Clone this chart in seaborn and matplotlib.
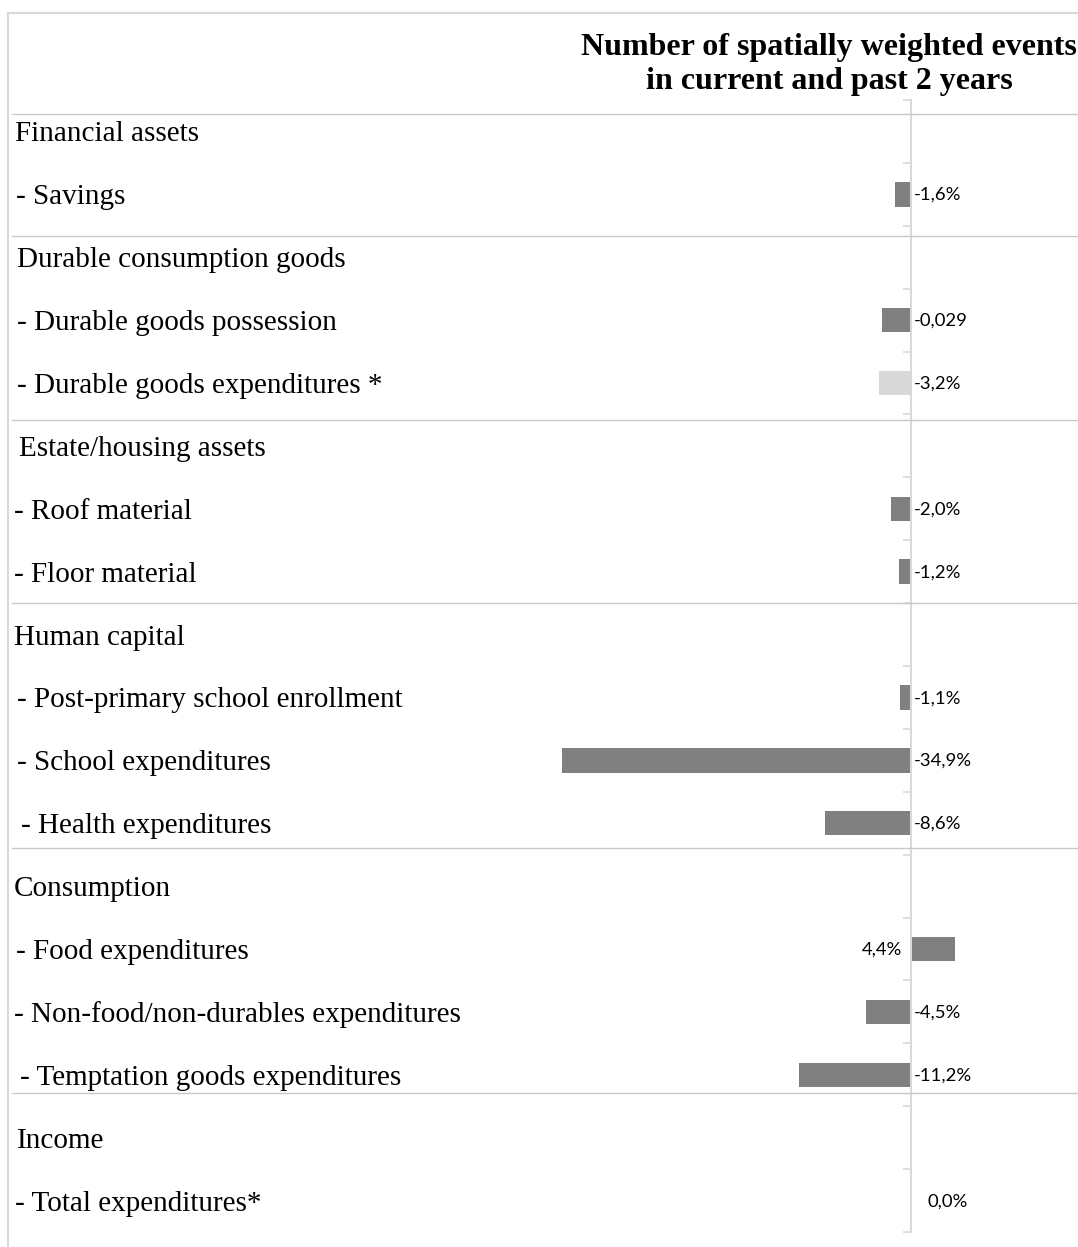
import numpy as np
import pandas as pd
import matplotlib
matplotlib.use("Agg")
import matplotlib.pyplot as plt
import seaborn as sns
from matplotlib.lines import Line2D
from matplotlib.transforms import blended_transform_factory, offset_copy

# ---------------- data ----------------
row_labels = [
    "Financial assets",
    "- Savings",
    "Durable consumption goods",
    "- Durable goods possession",
    "- Durable goods expenditures *",
    "Estate/housing assets",
    "- Roof material",
    "- Floor material",
    "Human capital",
    "- Post-primary school enrollment",
    "- School expenditures",
    "- Health expenditures",
    "Consumption",
    "- Food expenditures",
    "- Non-food/non-durables expenditures",
    "- Temptation goods expenditures",
    "Income",
    "- Total expenditures*",
]
item_labels = [
    "- Savings",
    "- Durable goods possession",
    "- Durable goods expenditures *",
    "- Roof material",
    "- Floor material",
    "- Post-primary school enrollment",
    "- School expenditures",
    "- Health expenditures",
    "- Food expenditures",
    "- Non-food/non-durables expenditures",
    "- Temptation goods expenditures",
    "- Total expenditures*",
]
item_values = [-1.6, -2.9, -3.2, -2.0, -1.2, -1.1, -34.9, -8.6, 4.4, -4.5, -11.2, 0.0]
value_texts = ["-1,6%", "-0,029", "-3,2%", "-2,0%", "-1,2%", "-1,1%",
               "-34,9%", "-8,6%", "4,4%", "-4,5%", "-11,2%", "0,0%"]
highlight = [False, False, True, False, False, False,
             False, False, False, False, False, False]
title_lines = ["Number of spatially weighted events", "in current and past 2 years"]

# ---------------- layout ----------------
W, H = 1078, 1247
def fx(px): return px / W
def fy(py): return 1 - py / H

label_x = [15, 16, 17, 17, 17, 19, 14, 14, 14, 17, 17, 21, 14, 16, 14, 20, 17, 15]
separators_y = [114, 236, 420, 603, 848, 1093]

sns.set_theme(style="white")
plt.rcParams["font.family"] = ["Liberation Serif", "DejaVu Sans"]
plt.rcParams["text.color"] = "#000000"

fig = plt.figure(figsize=(W / 100, H / 100), dpi=100)
ax = fig.add_axes([fx(8), fy(1232), fx(1078) - fx(8), fy(100) - fy(1232)])
ax.patch.set_alpha(0)

df = pd.DataFrame({"label": item_labels, "value": item_values,
                   "hl": ["hi" if h else "lo" for h in highlight]})
sns.barplot(data=df, x="value", y="label", order=row_labels, hue="hl",
            palette={"lo": "#808080", "hi": "#d9d9d9"}, dodge=False,
            orient="h", width=0.39, linewidth=0, legend=False, ax=ax)

ax.set_xlim((8 - 911) / 10, (1078 - 911) / 10)
ax.set_ylim(len(row_labels) - 0.5, -0.5)

for s in ["top", "right", "bottom"]:
    ax.spines[s].set_visible(False)
ax.spines["left"].set_position(("data", 0))
ax.spines["left"].set_color("#d9d9d9")
ax.spines["left"].set_linewidth(1.5)
ax.set_xlabel("")
ax.set_ylabel("")
ax.set_xticks([])
ax.set_yticks([])
ax.set_yticks(np.arange(-0.5, len(row_labels), 1.0), minor=True)
ax.tick_params(axis="y", which="minor", length=6, width=1.2, color="#d9d9d9",
               direction="out", left=True)
ax.tick_params(axis="y", which="major", length=0)

# row labels (baseline ~10 px below row centre)
tr = blended_transform_factory(fig.transFigure, ax.transData)
tr_lab = offset_copy(tr, fig=fig, x=0, y=-10, units="dots")
for i, lab in enumerate(row_labels):
    ax.text(fx(label_x[i]), i, lab, transform=tr_lab, ha="left", va="baseline",
            fontsize=21, family=["Liberation Serif", "DejaVu Sans"], color="#000000")

# value labels
for lab, v, t in zip(item_labels, item_values, value_texts):
    yi = row_labels.index(lab)
    if v > 0:
        off, ha = -6, "right"
    elif v == 0:
        off, ha = 12, "left"
    else:
        off, ha = 2, "left"
    ax.annotate(t, xy=(0, yi), xytext=(off, -0.5), textcoords="offset points",
                ha=ha, va="center", fontsize=13.3, family=["Lato", "DejaVu Sans"],
                color="#000000")

# title
fig.text(fx(829), fy(47), title_lines[0], ha="center", va="center", color="#000000",
         fontsize=23, fontweight="bold", family=["Liberation Serif", "DejaVu Sans"])
fig.text(fx(829), fy(82), title_lines[1], ha="center", va="center", color="#000000",
         fontsize=23, fontweight="bold", family=["Liberation Serif", "DejaVu Sans"])

# table borders
fig.add_artist(Line2D([fx(8), 1], [fy(13), fy(13)], transform=fig.transFigure,
                      color="#d9d9d9", lw=1.5))
fig.add_artist(Line2D([fx(8), fx(8)], [fy(13), 0], transform=fig.transFigure,
                      color="#d9d9d9", lw=1.5))
for y in separators_y:
    fig.add_artist(Line2D([fx(12), 1], [fy(y), fy(y)], transform=fig.transFigure,
                          color="#c8c8c8", lw=1.0))

fig.savefig("out.png", dpi=100, facecolor="white")
